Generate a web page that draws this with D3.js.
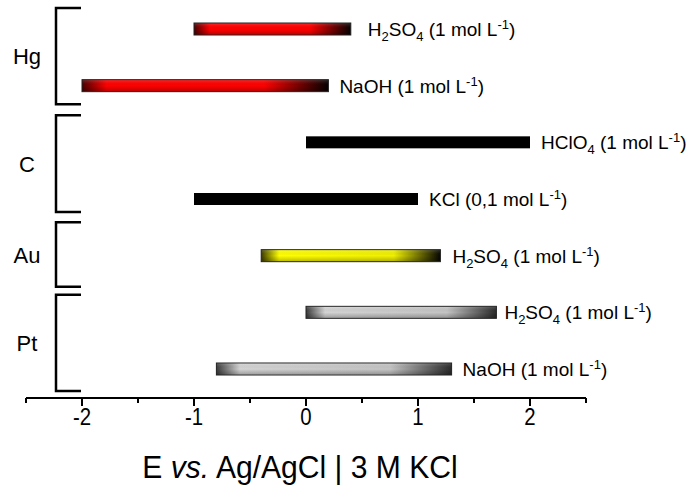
<!DOCTYPE html>
<html><head><meta charset="utf-8">
<script src="https://cdn.jsdelivr.net/npm/d3@7"></script>
<style>body{margin:0;background:#fff}svg{display:block;font-family:"Liberation Sans",Arial,sans-serif}</style>
</head><body><svg id="c" width="690" height="488"></svg>
<script>
// ---- data ----
const rows = ["Hg-H2SO4","Hg-NaOH","C-HClO4","C-KCl","Au-H2SO4","Pt-H2SO4","Pt-NaOH"];
const electrodes = ["Hg","Hg","C","C","Au","Pt","Pt"];
const startPot = [-1, -2, 0, -1, -0.4, 0, -0.8];
const endPot = [0.4, 0.2, 2, 1, 1.2, 1.7, 1.3];
// electrolyte formula parts: strings are normal text, [s] are subscripts
const formula = [["H",["2"],"SO",["4"]],["NaOH"],["HClO",["4"]],["KCl"],["H",["2"],"SO",["4"]],["H",["2"],"SO",["4"]],["NaOH"]];
const conc = ["1","1","1","0,1","1","1","1"];
const colorKind = ["red","red","black","black","yellow","gray","gray"];
const groups = ["Hg","C","Au","Pt"];
const tickVals = [-2,-1,0,1,2];

// ---- layout ----
const svg = d3.select("#c");
const x = d3.scaleLinear().domain([-2.5,2.5]).range([26,586]);
const yIdx = d3.scaleLinear().domain([0,6]).range([29,369]);
const labelGap = [17,11,11,11,12,8,11];
const bracketExt = {Hg:[-0.37,1.33], C:[1.52,3.23], Au:[3.41,4.55], Pt:[4.69,6.39]};

const defs = svg.append("defs");
const pal = {
  red:["#4a0000","#ff0000","#ff0000","#050000"],
  yellow:["#3a3a00","#ffff00","#f0f000","#050500"],
  gray:["#3a3a3a","#d4d4d4","#c4c4c4","#2a2a2a"]
};
Object.entries(pal).forEach(([k,c])=>{
  const g = defs.append("linearGradient").attr("id","g-"+k).attr("x1","0").attr("x2","1").attr("y1","0").attr("y2","0");
  [[0,c[0]],[0.1,c[1]],[0.74,c[2]],[1,c[3]]].forEach(([o,col])=>g.append("stop").attr("offset",o).attr("stop-color",col));
});
const vg = defs.append("linearGradient").attr("id","vshade").attr("x1","0").attr("x2","0").attr("y1","0").attr("y2","1");
vg.append("stop").attr("offset",0).attr("stop-color","#fff").attr("stop-opacity",0.15);
vg.append("stop").attr("offset",0.5).attr("stop-color","#000").attr("stop-opacity",0);
vg.append("stop").attr("offset",1).attr("stop-color","#000").attr("stop-opacity",0.25);

const bh = 12, fs = 19, fsSmall = 13;
rows.forEach((r,i)=>{
  const cy = yIdx(i);
  const x0 = x(startPot[i]), x1 = x(endPot[i]);
  if (colorKind[i]==="black") {
    svg.append("rect").attr("x",x0).attr("y",cy-bh/2).attr("width",x1-x0).attr("height",bh).attr("fill","#000");
  } else {
    svg.append("rect").attr("x",x0).attr("y",cy-bh/2).attr("width",x1-x0).attr("height",bh)
      .attr("fill","url(#g-"+colorKind[i]+")").attr("stroke","#222").attr("stroke-width",1);
    svg.append("rect").attr("x",x0+0.5).attr("y",cy-bh/2+0.5).attr("width",x1-x0-1).attr("height",bh-1).attr("fill","url(#vshade)");
  }
  const t = svg.append("text").attr("x",x1+labelGap[i]).attr("y",cy+7).attr("font-size",fs).attr("fill","#000");
  let pending = 0;
  formula[i].forEach(p=>{
    if (Array.isArray(p)) {
      t.append("tspan").attr("font-size",fsSmall).attr("dy",5-pending).text(p[0]);
      pending = 5;
    } else { t.append("tspan").attr("font-size",fs).attr("dy",-pending).text(p); pending = 0; }
  });
  t.append("tspan").attr("font-size",fs).attr("dy",-pending).text(" (" + conc[i] + " mol L");
  t.append("tspan").attr("font-size",fsSmall).attr("dy",-7).text("-1");
  t.append("tspan").attr("font-size",fs).attr("dy",7).text(")");
});

// brackets
groups.forEach(g=>{
  const [a,b] = bracketExt[g];
  const t0 = yIdx(a), t1 = yIdx(b);
  svg.append("path").attr("d",`M81,${t0}H56V${t1}H81`).attr("fill","none").attr("stroke","#000").attr("stroke-width",2.5);
  svg.append("text").attr("x",27).attr("y",(t0+t1)/2+8).attr("text-anchor","middle").attr("font-size",22).text(g);
});

// axis
const ax = svg.append("g").attr("transform","translate(0,398)");
ax.append("line").attr("x1",26).attr("x2",586).attr("stroke","#000").attr("stroke-width",2);
const minor = d3.range(-2.5,2.51,0.5).filter(v=>!tickVals.includes(v));
ax.selectAll(".mi").data(minor).join("line").attr("x1",d=>x(d)).attr("x2",d=>x(d)).attr("y1",0).attr("y2",5).attr("stroke","#000").attr("stroke-width",2);
ax.selectAll(".ma").data(tickVals).join("line").attr("x1",d=>x(d)).attr("x2",d=>x(d)).attr("y1",0).attr("y2",8).attr("stroke","#000").attr("stroke-width",2);
ax.selectAll(".tl").data(tickVals).join("text")
  .attr("transform",d=>`translate(${x(d)},27) scale(0.85,1)`)
  .attr("text-anchor","middle").attr("font-size",24).text(d=>d);

const title = svg.append("text").attr("transform","translate(300,478) scale(0.94,1)").attr("text-anchor","middle").attr("font-size",32);
title.append("tspan").text("E ");
title.append("tspan").attr("font-style","italic").text("vs.");
title.append("tspan").text(" Ag/AgCl | 3 M KCl");
</script></body></html>
